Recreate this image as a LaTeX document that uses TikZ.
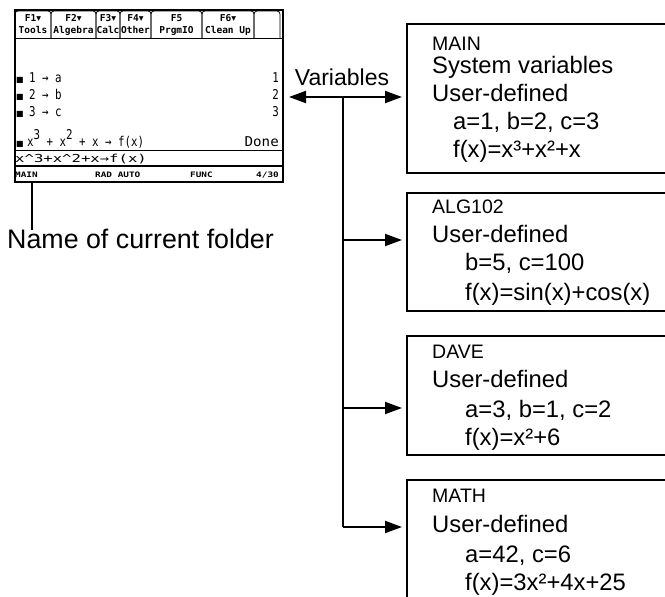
\documentclass[tikz,border=0pt]{standalone}
\usepackage{fontspec}
\setmainfont{Liberation Sans}
\newfontfamily\tif[FakeStretch=0.8]{DejaVu Sans Mono}
\newfontfamily\tid[FakeStretch=1.05]{DejaVu Sans Mono}
\newfontfamily\tab{DejaVu Sans Mono}
\newfontfamily\tiw[FakeStretch=1.42]{DejaVu Sans Mono}
\newfontfamily\tis[FakeStretch=1.25]{DejaVu Sans Mono}
\newfontfamily\dvs{DejaVu Sans}
\usetikzlibrary{arrows.meta}
\tikzset{
  scr/.style={draw, line width=2pt, inner sep=0pt, anchor=north west},
  tabshape/.style={draw, line width=0.8pt, rounded corners=3pt},
  tabtxt/.style={inner sep=0pt, anchor=base, font=\tab\bfseries\fontsize{9.5}{11}\selectfont},
  calc/.style={inner sep=0pt, anchor=base west, font=\tif\fontsize{13.5}{16}\selectfont},
  calcr/.style={calc, anchor=base east},
  sq/.style={calc, font=\dvs\fontsize{8}{9}\selectfont},
  entry/.style={inner sep=0pt, anchor=base west, font=\tiw\fontsize{11}{13}\selectfont},
  stat/.style={inner sep=0pt, anchor=base west, font=\tis\bfseries\fontsize{7.5}{9}\selectfont},
  sep/.style={line width=1.2pt},
  conn/.style={line width=2pt},
  arrowhd/.style={-{Triangle[length=17pt,width=12pt]}},
  folder/.style={draw, line width=2pt, anchor=north west, minimum width=330pt, inner sep=0pt},
  hdr/.style={inner sep=0pt, anchor=base west, font=\fontsize{19.5}{23}\selectfont},
  lbl/.style={inner sep=0pt, anchor=base west, font=\fontsize{23.8}{28}\selectfont},
  big/.style={inner sep=0pt, font=\fontsize{26.8}{32}\selectfont}
}
\begin{document}
\begin{tikzpicture}[x=1pt,y=-1pt]
\useasboundingbox (0,0) rectangle (665,597);
\clip (0,0) rectangle (665,597);

% ---------- calculator screen ----------
\node[scr, minimum width=268pt, minimum height=172pt] (screen) at (14,9) {};
% tabs
\foreach \a/\b/\k/\n [count=\i] in {15/51/{F1{\dvs▾}}/Tools, 51/96/{F2{\dvs▾}}/Algebra,
    96/120/{F3{\dvs▾}}/Calc, 120/151/{F4{\dvs▾}}/Other, 151/202/{F5}/PrgmIO,
    202/254/{F6{\dvs▾}}/{Clean Up}} {
  \draw[tabshape] (\a,38) -- (\a,11) -- (\b,11) -- (\b,38);
  \node[tabtxt] (k\i) at ({(\a+\b)/2},21) {\k};
  \node[tabtxt] (n\i) at ({(\a+\b)/2},33) {\n};
}
\draw[tabshape] (254,38) -- (254,11) -- (280,11) -- (280,38);
\draw[line width=0.8pt] (14,38) -- (282,38);

% history
\node[sq] (q1) at (16,82) {■};
\node[calc] (h1) at (29,82) {1 → a};
\node[calcr] (r1) at (279,82) {1};
\node[sq] (q2) at (16,99) {■};
\node[calc] (h2) at (29,99) {2 → b};
\node[calcr] (r2) at (279,99) {2};
\node[sq] (q3) at (16,116) {■};
\node[calc] (h3) at (29,116) {3 → c};
\node[calcr] (r3) at (279,116) {3};
\node[sq] (q4) at (16,146) {■};
\node[calc] (h4) at (27,146) {x\raisebox{7pt}{3} + x\raisebox{7pt}{2} + x → f(x)};
\node[calcr, font=\tid\fontsize{13.5}{16}\selectfont] (r4) at (279,146) {Done};
\draw[sep] (14,150.5) -- (282,150.5);
\node[entry] (ent) at (15,162.5) {x\textasciicircum 3+x\textasciicircum 2+x→f(x)};
\draw[sep] (14,166) -- (282,166);
% status bar
\node[stat] (s1) at (15,177.5) {MAIN};
\node[stat] (s2) at (95,177.5) {RAD AUTO};
\node[stat] (s3) at (190,177.5) {FUNC};
\node[stat, anchor=base east] (s4) at (279,177.5) {4/30};

% leader to folder name
\coordinate (lead) at (32,181);
\coordinate (leadend) at (32,230);
\node[big, anchor=base west] (cur) at (7,248) {Name of current folder};
\draw[line width=1.5pt] (lead) -- (leadend);

% ---------- folder boxes ----------
\node[folder, minimum height=149pt] (mainbox) at (406,23) {};
\node[folder, minimum height=118pt] (algbox) at (406,192) {};
\node[folder, minimum height=119pt] (davebox) at (406,335) {};
\node[folder, minimum height=200pt] (mathbox) at (406,479) {};

\node[hdr] (m0) at (432,50) {MAIN};
\node[lbl] (m1) at (432,74) {System variables};
\node[lbl] (m2) at (432,101) {User-defined};
\node[lbl] (m3) at (453,129) {a=1, b=2, c=3};
\node[lbl] (m4) at (453,157) {f(x)=x³+x²+x};

\node[hdr] (a0) at (432,213) {ALG102};
\node[lbl] (a1) at (432,242) {User-defined};
\node[lbl] (a2) at (465,270) {b=5, c=100};
\node[lbl] (a3) at (465,300) {f(x)=sin(x)+cos(x)};

\node[hdr] (d0) at (432,358) {DAVE};
\node[lbl] (d1) at (432,387) {User-defined};
\node[lbl] (d2) at (465,417) {a=3, b=1, c=2};
\node[lbl] (d3) at (465,445) {f(x)=x²+6};

\node[hdr] (t0) at (432,502) {MATH};
\node[lbl] (t1) at (432,532) {User-defined};
\node[lbl] (t2) at (465,562) {a=42, c=6};
\node[lbl] (t3) at (465,590) {f(x)=3x²+4x+25};

% ---------- connectors ----------
\node[lbl, anchor=base, font=\fontsize{23}{27}\selectfont] (var) at (342,85) {Variables};
\coordinate (hub) at (343,97);
\coordinate (b1) at (343,240);
\coordinate (b2) at (343,408);
\coordinate (b3) at (343,527);
\draw[conn, {Triangle[length=17pt,width=12pt]}-{Triangle[length=17pt,width=12pt]}]
  ([xshift=5pt]screen.east |- hub) -- ([xshift=-4pt]mainbox.west |- hub);
\draw[conn] (hub) -- (b3);
\draw[conn, arrowhd] (b1) -- ([xshift=-4pt]algbox.west |- b1);
\draw[conn, arrowhd] (b2) -- ([xshift=-4pt]davebox.west |- b2);
\draw[conn, arrowhd] (b3) -- ([xshift=-4pt]mathbox.west |- b3);
\end{tikzpicture}
\end{document}
